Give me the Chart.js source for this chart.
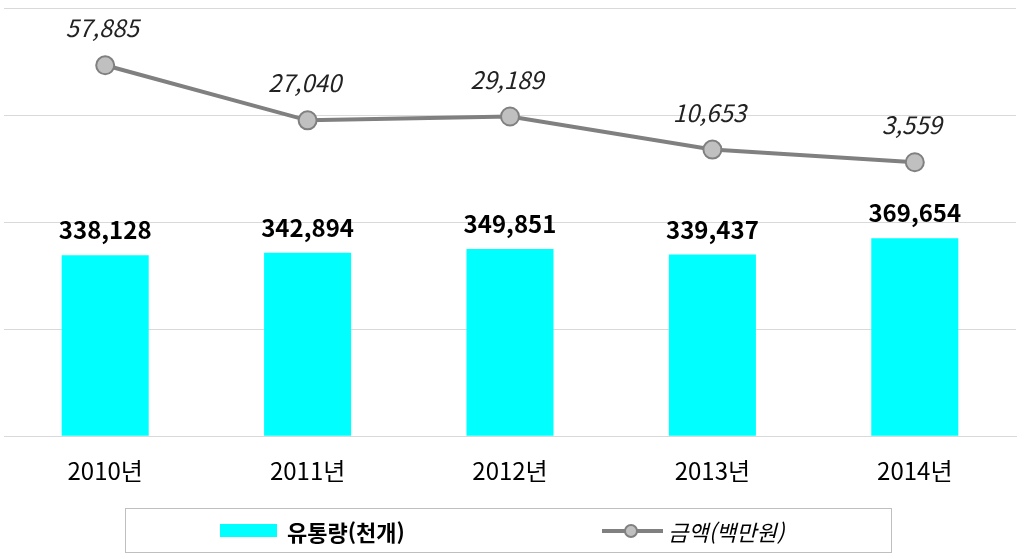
<!DOCTYPE html>
<html lang="ko">
<head>
<meta charset="UTF-8">
<title>유통량 및 금액</title>
<style>
    body { margin: 0; background: #fff; font-family: "Noto Sans CJK KR", sans-serif; }
    #wrap { position: relative; width: 1024px; height: 559px; }
    #legend {
        position: absolute; left: 125px; top: 508px; width: 767px; height: 45px;
        border: 1px solid #bfbfbf; box-sizing: border-box;
    }
    .item { position: absolute; top: 0; height: 43px; display: flex; align-items: center; font-size: 22px; color: #000; }
    .swatch { width: 57px; height: 13px; background: #00ffff; margin-right: 10px; }
    .lineSym { position: relative; width: 61px; height: 14px; margin-right: 5px; }
    .lineSym:before { content: ""; position: absolute; left: 0; right: 0; top: 5px; height: 4px; background: #808080; }
    .lineSym:after { content: ""; position: absolute; left: 22px; top: 0; width: 10px; height: 10px; border-radius: 50%;
        background: #c0c0c0; border: 2px solid #808080; }
</style>
</head>
<body>
<div id="wrap">
    <canvas id="myChart" width="1024" height="559"></canvas>
    <div id="legend">
        <div class="item" style="left:94px; font-weight:bold;"><span class="swatch"></span>유통량(천개)</div>
        <div class="item" style="left:476px; font-style:italic;"><span class="lineSym"></span>금액(백만원)</div>
    </div>
</div>

<script src="https://cdn.jsdelivr.net/npm/chart.js"></script>
<script>
    const years = ['2010년', '2011년', '2012년', '2013년', '2014년'];
    const volume = [338128, 342894, 349851, 339437, 369654];   // 유통량(천개)
    const amount = [57885, 27040, 29189, 10653, 3559];        // 금액(백만원)

    const fontFamily = '"Noto Sans CJK KR", "Noto Sans", sans-serif';

    // value labels over bars and points
    const valueLabels = {
        id: 'valueLabels',
        afterDatasetsDraw(chart) {
            const ctx = chart.ctx;
            ctx.save();
            ctx.textAlign = 'center';
            ctx.textBaseline = 'middle';
            chart.getDatasetMeta(0).data.forEach((bar, i) => {
                ctx.font = 'bold 24px ' + fontFamily;
                ctx.fillStyle = '#000';
                ctx.fillText(volume[i].toLocaleString('en-US'), bar.x, bar.y - 25);
            });
            chart.getDatasetMeta(1).data.forEach((pt, i) => {
                ctx.font = 'italic 24px ' + fontFamily;
                ctx.fillStyle = '#222';
                ctx.fillText(amount[i].toLocaleString('en-US'), pt.x - 3, pt.y - 37);
            });
            ctx.restore();
        }
    };

    new Chart(document.getElementById('myChart'), {
        data: {
            labels: years,
            datasets: [
                {
                    type: 'bar',
                    label: '유통량(천개)',
                    data: volume,
                    backgroundColor: '#00ffff',
                    yAxisID: 'y',
                    categoryPercentage: 1,
                    barPercentage: 0.43,
                    order: 2
                },
                {
                    type: 'line',
                    label: '금액(백만원)',
                    data: amount,
                    borderColor: '#808080',
                    borderWidth: 4,
                    pointRadius: 9,
                    pointBackgroundColor: '#c0c0c0',
                    pointBorderColor: '#808080',
                    pointBorderWidth: 2,
                    yAxisID: 'y2',
                    order: 1
                }
            ]
        },
        options: {
            responsive: false,
            animation: false,
            layout: { autoPadding: false, padding: { left: 4, right: 8, top: 8, bottom: 62 } },
            plugins: { legend: { display: false }, tooltip: { enabled: false } },
            scales: {
                x: {
                    grid: { display: false },
                    border: { color: '#d9d9d9' },
                    ticks: { color: '#000', padding: 12, font: { family: fontFamily, size: 24 } }
                },
                y: {
                    min: 0, max: 800000,
                    ticks: { display: false, stepSize: 200000, padding: 0 },
                    grid: { color: '#d9d9d9', drawTicks: false },
                    border: { display: false },
                    afterFit: axis => { axis.width = 0; }
                },
                y2: {
                    position: 'right',
                    min: -150000, max: 90000,
                    display: false
                }
            }
        },
        plugins: [valueLabels]
    });
</script>
</body>
</html>
